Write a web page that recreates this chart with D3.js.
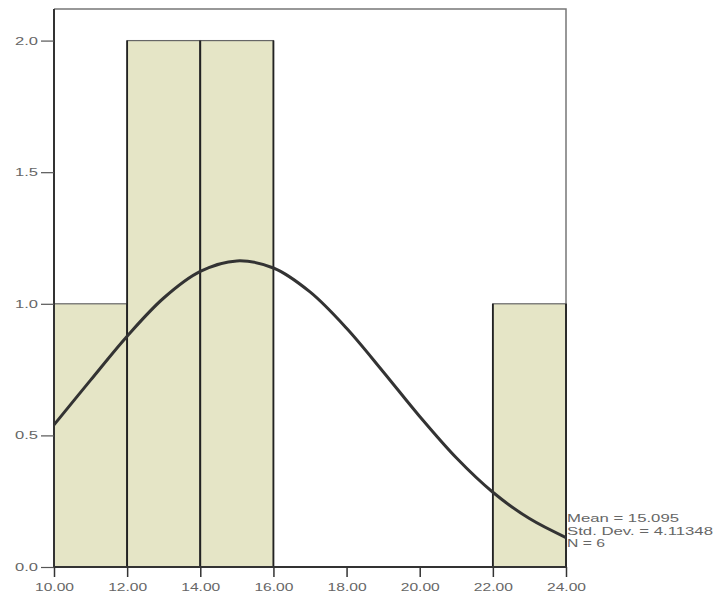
<!DOCTYPE html>
<html>
<head>
<meta charset="utf-8">
<script src="https://cdn.jsdelivr.net/npm/d3@7"></script>
<style>
  body { margin: 0; background: #fff; }
  svg { display: block; font-family: Arial, "Liberation Sans", sans-serif; }
</style>
</head>
<body>
<div id="chart"></div>
<script>
// histogram bins (lower edge, upper edge, frequency)
const binStarts = [10, 12, 14, 22];
const binEnds = [12, 14, 16, 24];
const binCounts = [1, 2, 2, 1];

// fitted normal curve
const curveX = [10, 11, 12, 13, 14, 15, 16, 17, 18, 19, 20, 21, 22, 23, 24];
const curveY = [0.54, 0.71, 0.877, 1.022, 1.123, 1.163, 1.136, 1.045, 0.907, 0.742, 0.572, 0.415, 0.284, 0.184, 0.112];

const xTicks = [10, 12, 14, 16, 18, 20, 22, 24];
const yTicks = [0, 0.5, 1, 1.5, 2];
const statLines = ["Mean = 15.095", "Std. Dev. = 4.11348", "N = 6"];

const width = 717;
const height = 602;
const margin = { top: 9, right: 151, bottom: 35, left: 54 };
const innerWidth = width - margin.left - margin.right;
const innerHeight = height - margin.top - margin.bottom;

const svg = d3.select("#chart")
  .append("svg")
  .attr("width", width)
  .attr("height", height);

const chart = svg.append("g")
  .attr("transform", `translate(${margin.left}, ${margin.top})`);

const x = d3.scaleLinear().domain([10, 24]).range([0, innerWidth]);
const y = d3.scaleLinear().domain([0, 2.12]).range([innerHeight, 0]);

// frame top/right
chart.append("path")
  .attr("d", `M0,0H${innerWidth}V${innerHeight}`)
  .attr("fill", "none")
  .attr("stroke", "#777")
  .attr("stroke-width", 1.5);

// bars
binStarts.forEach((start, i) => {
  chart.append("rect")
    .attr("x", x(start))
    .attr("y", y(binCounts[i]))
    .attr("width", x(binEnds[i]) - x(start))
    .attr("height", y(0) - y(binCounts[i]))
    .attr("fill", "#e5e5c6")
    .attr("stroke", "#666")
    .attr("stroke-width", 1.2);
  // darker vertical edges
  [start, binEnds[i]].forEach((edge) => {
    chart.append("line")
      .attr("x1", x(edge)).attr("x2", x(edge))
      .attr("y1", y(binCounts[i])).attr("y2", y(0))
      .attr("stroke", "#222")
      .attr("stroke-width", 1.8);
  });
});

// normal curve
const line = d3.line()
  .x((d, i) => x(curveX[i]))
  .y((d) => y(d))
  .curve(d3.curveCatmullRom);

chart.append("path")
  .datum(curveY)
  .attr("fill", "none")
  .attr("stroke", "#333")
  .attr("stroke-width", 3)
  .attr("d", line);

// axes (labels in the source look stretched sideways)
chart.append("g")
  .call(d3.axisLeft(y).tickValues(yTicks).tickFormat(d3.format(".1f")).tickSize(13).tickPadding(3))
  .call((g) => g.select(".domain").attr("stroke", "#333").attr("stroke-width", 2).attr("d", `M0,0V${innerHeight}`))
  .call((g) => g.selectAll(".tick line").attr("stroke", "#555").attr("stroke-width", 1.2))
  .call((g) => g.selectAll(".tick text")
    .attr("fill", "#666").attr("font-size", 11)
    .attr("textLength", 23).attr("lengthAdjust", "spacingAndGlyphs"));

chart.append("g")
  .attr("transform", `translate(0, ${innerHeight})`)
  .call(d3.axisBottom(x).tickValues(xTicks).tickFormat(d3.format(".2f")).tickSize(10).tickPadding(6))
  .call((g) => g.select(".domain").attr("stroke", "#333").attr("stroke-width", 2).attr("d", `M0,0H${innerWidth}`))
  .call((g) => g.selectAll(".tick line").attr("stroke", "#333").attr("stroke-width", 1.5))
  .call((g) => g.selectAll(".tick text")
    .attr("fill", "#666").attr("font-size", 11.5)
    .attr("textLength", 39).attr("lengthAdjust", "spacingAndGlyphs"));

// statistics text
const statWidths = [112, 146, 38];
statLines.forEach((t, i) => {
  chart.append("text")
    .attr("x", x(24) + 1)
    .attr("y", y(0.17) + i * 12.5)
    .attr("fill", "#666")
    .attr("font-size", 11)
    .attr("textLength", statWidths[i])
    .attr("lengthAdjust", "spacingAndGlyphs")
    .text(t);
});
</script>
</body>
</html>
